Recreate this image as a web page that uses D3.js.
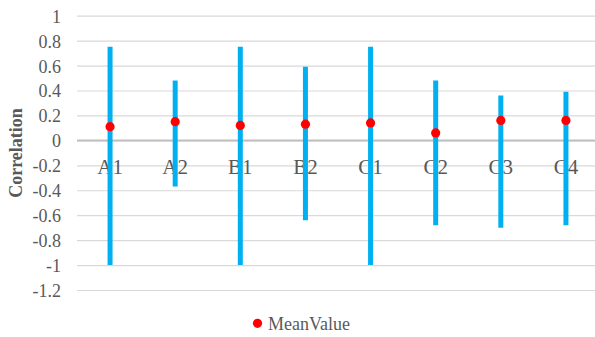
<!DOCTYPE html>
<html>
<head>
<meta charset="utf-8">
<script src="https://cdn.jsdelivr.net/npm/d3@7"></script>
<style>
  html, body { margin: 0; padding: 0; background: #fff; }
  svg { display: block; }
</style>
</head>
<body>
<svg id="chart" width="595" height="337" font-family="'Liberation Serif', 'Times New Roman', Times, serif"></svg>
<script>
// Correlation range per group (high/low) with the mean marked as a dot
const categories = ["A1", "A2", "B1", "B2", "C1", "C2", "C3", "C4"];
const highValues = [0.75, 0.48, 0.75, 0.59, 0.75, 0.48, 0.36, 0.39];
const lowValues  = [-1.0, -0.37, -1.0, -0.64, -1.0, -0.68, -0.70, -0.68];
const meanValues = [0.11, 0.15, 0.12, 0.13, 0.14, 0.06, 0.16, 0.16];
const yTicks = [1, 0.8, 0.6, 0.4, 0.2, 0, -0.2, -0.4, -0.6, -0.8, -1, -1.2];
const legendLabel = "MeanValue";
const yTitle = "Correlation";

const FONT = "'Liberation Serif', 'Times New Roman', Times, serif";
const svg = d3.select("#chart");
const textColor = "#595959";

const x = d3.scaleBand().domain(categories).range([77.5, 598.5]);
const y = d3.scaleLinear().domain([-1.2, 1]).range([290, 15.7]);

// Horizontal gridlines
const gridAxis = d3.axisLeft(y).tickValues(yTicks).tickSize(-(595 - 77)).tickFormat("");
const grid = svg.append("g").attr("transform", "translate(77,0)").call(gridAxis);
grid.select(".domain").remove();
grid.selectAll(".tick line").attr("stroke", "#d9d9d9").attr("stroke-width", 1.2);

// Tick labels
const labelAxis = d3.axisLeft(y).tickValues(yTicks).tickSize(0).tickPadding(0)
  .tickFormat(d => String(d));
const lab = svg.append("g").attr("transform", "translate(61,0)").call(labelAxis);
lab.attr("font-family", FONT).attr("font-size", 18);
lab.select(".domain").remove();
lab.selectAll(".tick text")
  .attr("fill", textColor)
  .attr("dy", "0.36em");

// Zero baseline
svg.append("line")
  .attr("x1", 77).attr("x2", 595)
  .attr("y1", y(0)).attr("y2", y(0))
  .attr("stroke", "#bfbfbf").attr("stroke-width", 2);

// Category labels sitting just under the zero line
const catAxis = d3.axisBottom(x).tickSize(0).tickPadding(0);
const cat = svg.append("g").attr("transform", `translate(0,${y(0)})`).call(catAxis);
cat.attr("font-family", FONT).attr("font-size", 21);
cat.select(".domain").remove();
cat.selectAll(".tick text")
  .attr("fill", textColor)
  .attr("y", 0).attr("dy", "1.61em");

// High-low bars
svg.append("g").selectAll("line")
  .data(categories)
  .join("line")
  .attr("x1", d => x(d) + x.bandwidth() / 2)
  .attr("x2", d => x(d) + x.bandwidth() / 2)
  .attr("y1", (d, i) => y(highValues[i]))
  .attr("y2", (d, i) => y(lowValues[i]))
  .attr("stroke", "#00B0F0")
  .attr("stroke-width", 5);

// Mean markers
svg.append("g").selectAll("circle")
  .data(categories)
  .join("circle")
  .attr("cx", d => x(d) + x.bandwidth() / 2)
  .attr("cy", (d, i) => y(meanValues[i]))
  .attr("r", 4.6)
  .attr("fill", "#FF0000");

// Y axis title
svg.append("text")
  .attr("transform", `translate(22,153) rotate(-90)`)
  .attr("text-anchor", "middle")
  .attr("fill", textColor)
  .attr("font-family", FONT)
  .attr("font-size", 18)
  .attr("font-weight", "bold")
  .text(yTitle);

// Legend
const legend = svg.append("g");
legend.append("circle").attr("cx", 257.5).attr("cy", 323.3).attr("r", 4.6).attr("fill", "#FF0000");
legend.append("text")
  .attr("x", 268).attr("y", 330)
  .attr("fill", textColor)
  .attr("font-family", FONT)
  .attr("font-size", 18)
  .text(legendLabel);
</script>
</body>
</html>
